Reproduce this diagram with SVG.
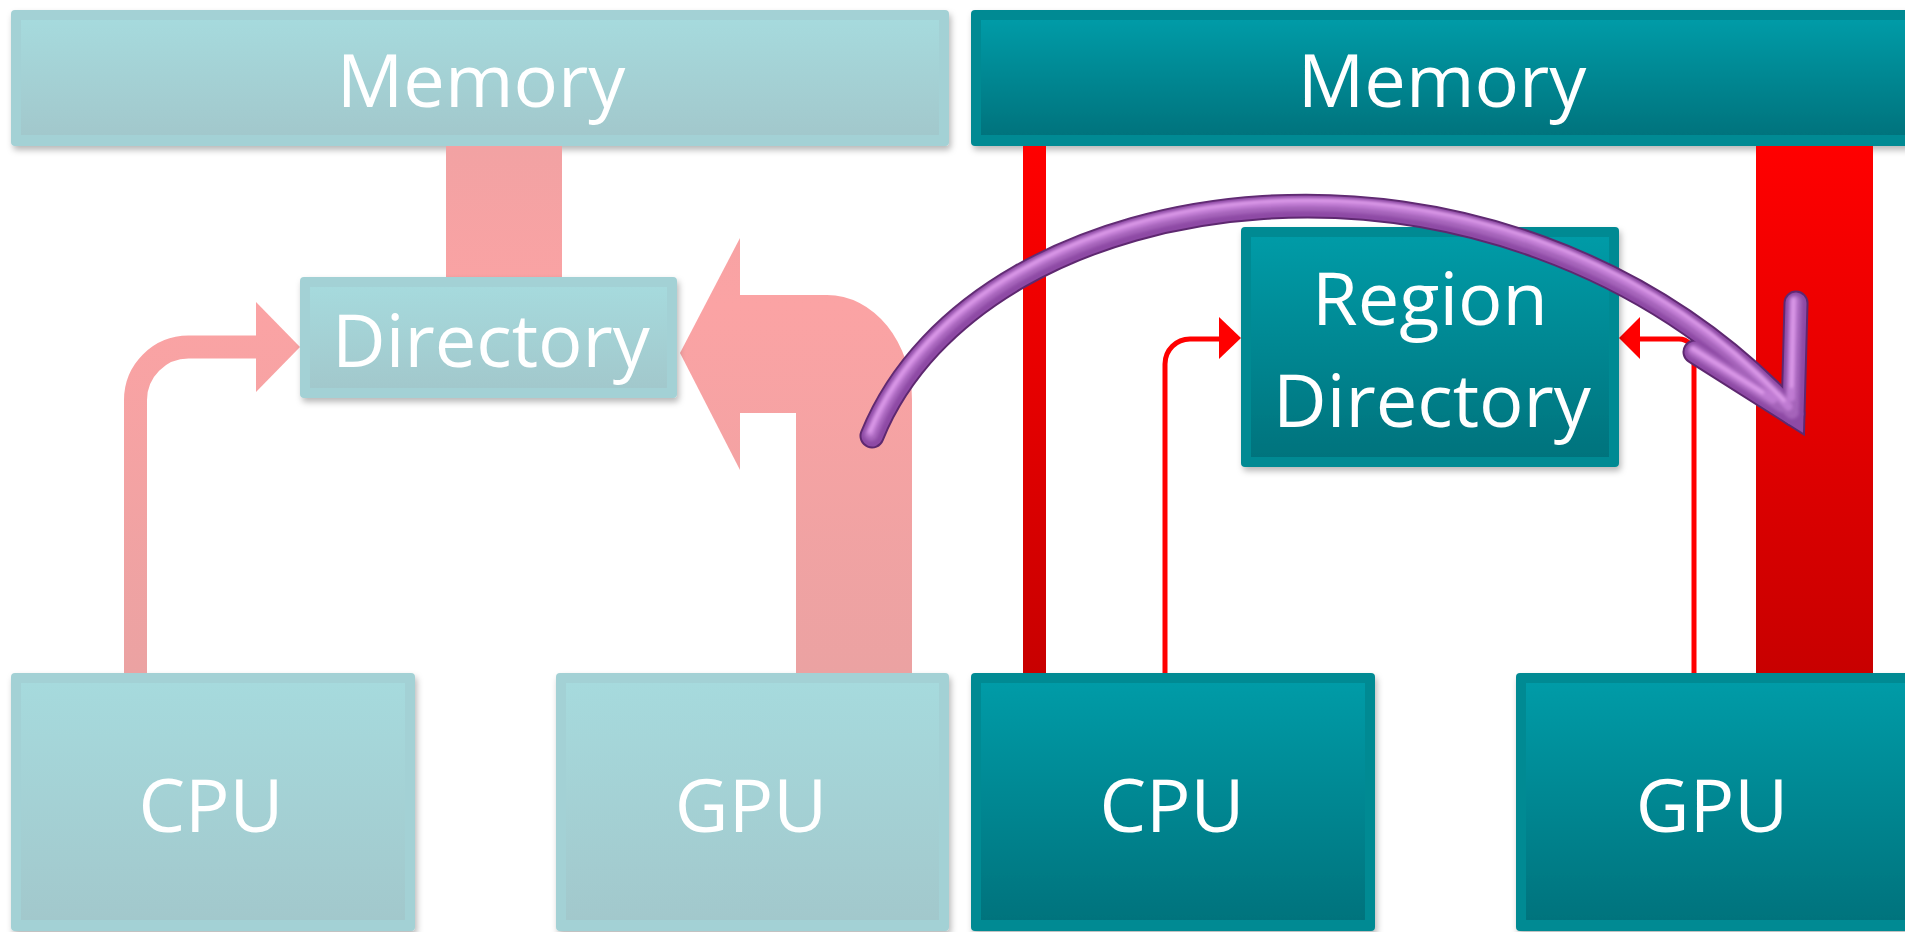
<svg xmlns="http://www.w3.org/2000/svg" width="1905" height="932" viewBox="0 0 1905 932">
<defs>
<linearGradient id="lightIn" x1="0" y1="0" x2="0" y2="1"><stop offset="0" stop-color="#a6dadd"/><stop offset="1" stop-color="#a2c8cc"/></linearGradient>
<linearGradient id="darkIn" x1="0" y1="0" x2="0" y2="1"><stop offset="0" stop-color="#049ba7"/><stop offset="1" stop-color="#01737d"/></linearGradient>
<linearGradient id="pink" gradientUnits="userSpaceOnUse" x1="0" y1="146" x2="0" y2="673"><stop offset="0" stop-color="#f2a2a3"/><stop offset="0.3" stop-color="#fba3a4"/><stop offset="1" stop-color="#eba2a2"/></linearGradient>
<linearGradient id="red" gradientUnits="userSpaceOnUse" x1="0" y1="146" x2="0" y2="673"><stop offset="0" stop-color="#ff0000"/><stop offset="1" stop-color="#c80000"/></linearGradient>
<filter id="sh" x="-10%" y="-10%" width="120%" height="130%"><feDropShadow dx="2" dy="4" stdDeviation="3" flood-color="#000" flood-opacity="0.28"/></filter>
<filter id="soft" x="-5%" y="-5%" width="110%" height="110%"><feGaussianBlur stdDeviation="1.6"/></filter>
<style>
.lo{fill:#a3d1d5}
.li{fill:url(#lightIn)}
.do{fill:#028a93}
.di{fill:url(#darkIn)}
.t{font-family:"Open Sans","Noto Sans","Liberation Sans",sans-serif;font-size:74px;fill:#fff;text-anchor:middle}
.pk{fill:url(#pink)}
.rd{fill:url(#red)}
.rl{fill:none;stroke:#ff0000;stroke-width:5}
.pl{fill:none;stroke:url(#pink);stroke-width:23}
.pu{fill:none;stroke-linecap:round;stroke-linejoin:miter}
.p1{stroke:#5e2870;stroke-width:25}
.p2{stroke:#8e4aa5;stroke-width:21}
.p3{stroke:#a563ba;stroke-width:14}
.p4{stroke:#c07bd3;stroke-width:8}
.p5{stroke:#dc9ae9;stroke-width:3.5}
</style>
</defs>
<rect width="1905" height="932" fill="#fff"/>
<g id="memory-left" filter="url(#sh)"><rect class="lo" x="11" y="10" width="938" height="136" rx="4"/><rect class="li" x="21" y="20" width="918" height="115"/><text class="t" x="481" y="107">Memory</text></g>
<g id="memory-right" filter="url(#sh)"><rect class="do" x="971" y="10" width="950" height="136" rx="4"/><rect class="di" x="981" y="20" width="930" height="115"/><text class="t" x="1442" y="107">Memory</text></g>
<g id="cpu-left" filter="url(#sh)"><rect class="lo" x="11" y="673" width="404" height="258" rx="4"/><rect class="li" x="21" y="683" width="384" height="237"/><text class="t" x="211" y="832">CPU</text></g>
<g id="gpu-left" filter="url(#sh)"><rect class="lo" x="556" y="673" width="393" height="258" rx="4"/><rect class="li" x="566" y="683" width="373" height="237"/><text class="t" x="751" y="832">GPU</text></g>
<g id="cpu-right" filter="url(#sh)"><rect class="do" x="971" y="673" width="404" height="258" rx="4"/><rect class="di" x="981" y="683" width="384" height="237"/><text class="t" x="1172" y="832">CPU</text></g>
<g id="gpu-right" filter="url(#sh)"><rect class="do" x="1516" y="673" width="400" height="258" rx="4"/><rect class="di" x="1526" y="683" width="380" height="237"/><text class="t" x="1712" y="832">GPU</text></g>
<g id="connectors">
<rect class="pk" x="446" y="146" width="116" height="131"/>
<path class="pl" d="M135.5 673 L135.5 400 A53 53 0 0 1 188.5 347 L258 347"/>
<polygon class="pk" points="256,302 256,392 300,347"/>
<path class="pk" d="M740 295 L827 295 A85 105 0 0 1 912 400 L912 673 L796 673 L796 413 L740 413 Z"/>
<polygon class="pk" points="740,238 740,470 680,353"/>
<rect class="rd" x="1023" y="146" width="23" height="527"/>
<rect class="rd" x="1756" y="146" width="117" height="527"/>
<path class="rl" d="M1165 673 L1165 364 A25 25 0 0 1 1190 339 L1222 339"/>
<polygon points="1219,317 1219,359 1241,338" fill="#ff0000"/>
<path class="rl" d="M1694 673 L1694 354 A15 15 0 0 0 1679 339 L1638 339"/>
<polygon points="1640,317 1640,359 1619,338" fill="#ff0000"/>
</g>
<g id="directory-left" filter="url(#sh)"><rect class="lo" x="300" y="277" width="377" height="121" rx="4"/><rect class="li" x="310" y="287" width="357" height="101"/><text class="t" x="491" y="367">Directory</text></g>
<g id="region-directory" filter="url(#sh)"><rect class="do" x="1241" y="227" width="378" height="240" rx="4"/><rect class="di" x="1251" y="237" width="358" height="220"/><text class="t" x="1430" y="325">Region</text><text class="t" x="1432" y="427">Directory</text></g>
<g id="migration-arrow">
<path class="pu p1" d="M872 436 C980 170 1500 100 1793 414"/>
<path class="pu p1" d="M1796 303 L1793 414 L1695 352"/>
<path class="pu p2" d="M872 436 C980 170 1500 100 1793 414"/>
<path class="pu p2" d="M1796 303 L1793 414 L1695 352"/>
<g filter="url(#soft)">
<path class="pu p3" d="M872 436 C980 170 1500 100 1793 414" transform="translate(-1,-2)"/>
<path class="pu p3" d="M1796 303 L1793 408 M1695 352 L1783 407" transform="translate(-1,-1.5)"/>
<path class="pu p4" d="M872 436 C980 170 1500 100 1790 410" transform="translate(-1.5,-3.5)"/>
<path class="pu p4" d="M1796 303 L1793 400 M1695 352 L1775 402" transform="translate(-2,-2.5)"/>
<path class="pu p5" d="M872 436 C980 170 1500 100 1786 405" transform="translate(-2,-4.5)"/>
<path class="pu p5" d="M1796 303 L1794 390 M1695 352 L1765 396" transform="translate(-2.5,-3.5)"/>
</g>
</g>
</svg>
